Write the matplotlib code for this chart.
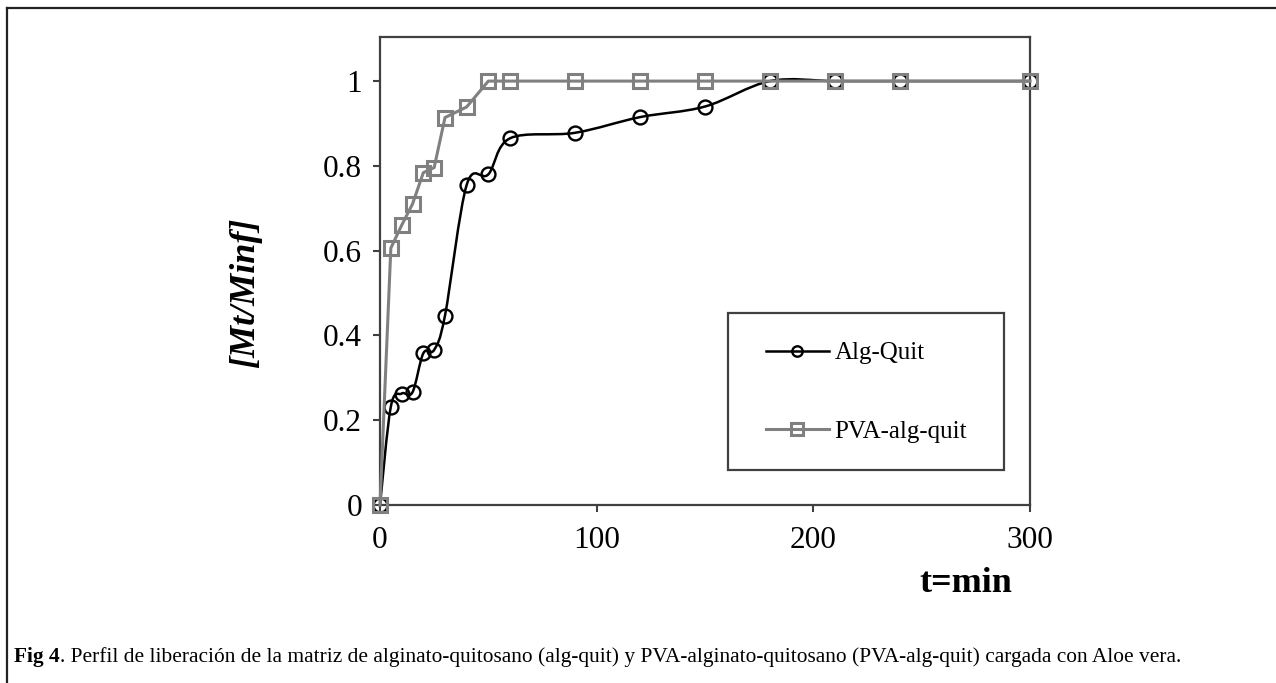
import numpy as np
import matplotlib.pyplot as plt
from matplotlib.path import Path
from matplotlib.patches import PathPatch, Rectangle
from matplotlib.lines import Line2D

plt.rcParams['font.family'] = ['Liberation Serif', 'DejaVu Serif']

# time (min)
t = [0, 5, 10, 15, 20, 25, 30, 40, 50, 60, 90, 120, 150, 180, 210, 240, 300]
alg_quit = [0, 0.232, 0.263, 0.266, 0.358, 0.366, 0.447, 0.755, 0.780, 0.865,
            0.878, 0.915, 0.940, 1.0, 1.0, 1.0, 1.0]
pva_alg_quit = [0, 0.606, 0.660, 0.710, 0.784, 0.796, 0.914, 0.939, 1.0, 1.0,
                1.0, 1.0, 1.0, 1.0, 1.0, 1.0, 1.0]
yticks = [0, 0.2, 0.4, 0.6, 0.8, 1.0]
ytick_labels = ['0', '0.2', '0.4', '0.6', '0.8', '1']
xticks = [0, 100, 200, 300]
caption_bold = 'Fig 4'
caption_rest = ('. Perfil de liberación de la matriz de alginato-quitosano (alg-quit) '
                'y PVA-alginato-quitosano (PVA-alg-quit) cargada con Aloe vera.')


def smooth_path(x, y):
    # Excel-like smoothed line (Catmull-Rom -> cubic Bezier)
    p = np.column_stack([x, y]).astype(float)
    n = len(p)
    verts = [p[0]]
    codes = [Path.MOVETO]
    for i in range(n - 1):
        p0 = p[i - 1] if i > 0 else p[i]
        p1 = p[i]
        p2 = p[i + 1]
        p3 = p[i + 2] if i + 2 < n else p[i + 1]
        c1 = p1 + (p2 - p0) / 6.0
        c2 = p2 - (p3 - p1) / 6.0
        verts += [c1, c2, p2]
        codes += [Path.CURVE4] * 3
    return Path(verts, codes)


W, H = 1276, 683
fig = plt.figure(figsize=(W / 100, H / 100), dpi=100)
ax = fig.add_axes([380 / W, 1 - 505 / H, 650 / W, 468 / H])

spine_c = '#404040'
gray = '#808080'

ax.add_patch(PathPatch(smooth_path(t, alg_quit), facecolor='none',
                       edgecolor='black', lw=1.8, zorder=3))
ax.plot(t, alg_quit, linestyle='none', marker='o', ms=10, mfc='none',
        mec='black', mew=1.7, zorder=4, clip_on=False)
ax.plot(t, pva_alg_quit, color=gray, lw=2.2, marker='s', ms=9.5, mfc='none',
        mec=gray, mew=2.2, zorder=5, clip_on=False)

ax.set_xlim(0, 300)
ax.set_ylim(0, 1.104)
ax.set_xticks(xticks)
ax.set_xticklabels([str(v) for v in xticks])
ax.set_yticks(yticks)
ax.set_yticklabels(ytick_labels)
ax.tick_params(direction='out', length=5, width=1.5, color=spine_c,
               labelsize=22.5, pad=8)
ax.tick_params(axis='x', pad=10)
for s in ax.spines.values():
    s.set_color(spine_c)
    s.set_linewidth(1.6)

fig.text(246 / W, 1 - 293 / H, '[Mt/Minf]', rotation=90, fontsize=26,
         fontweight='bold', style='italic', ha='center', va='center')
fig.text(966 / W, 1 - 583 / H, 't=min', fontsize=26, fontweight='bold',
         ha='center', va='center')

handles = [
    Line2D([], [], color='black', lw=1.8, marker='o', ms=7.5, mfc='none',
           mec='black', mew=1.7),
    Line2D([], [], color=gray, lw=2.2, marker='s', ms=8, mfc='none',
           mec=gray, mew=2.2),
]
ax.legend(handles, ['Alg-Quit', 'PVA-alg-quit'], loc='center left',
          bbox_to_anchor=(0.594, 0.2404), fontsize=18, frameon=False,
          handlelength=2.5, handletextpad=0.24, labelspacing=2.25,
          borderpad=0, borderaxespad=0)
# legend frame as in the reference
ax.add_patch(Rectangle((348 / 650, 35 / 468), 276 / 650, 157 / 468,
                       transform=ax.transAxes, facecolor='none',
                       edgecolor=spine_c, lw=1.6, zorder=6))

# outer frame lines (top and left)
fig.add_artist(Line2D([7 / W, 1], [1 - 8 / H, 1 - 8 / H], color='#222222', lw=1.6))
fig.add_artist(Line2D([7 / W, 7 / W], [1 - 8 / H, 0], color='#222222', lw=1.6))

cap = fig.text(14 / W, 1 - 657 / H, caption_bold, fontsize=15.4,
               fontweight='bold', va='center', ha='left')
fig.canvas.draw()
bb = cap.get_window_extent()
fig.text(bb.x1 / W, 1 - 657 / H, caption_rest, fontsize=15.4,
         va='center', ha='left')

fig.savefig('out.png', dpi=100)
